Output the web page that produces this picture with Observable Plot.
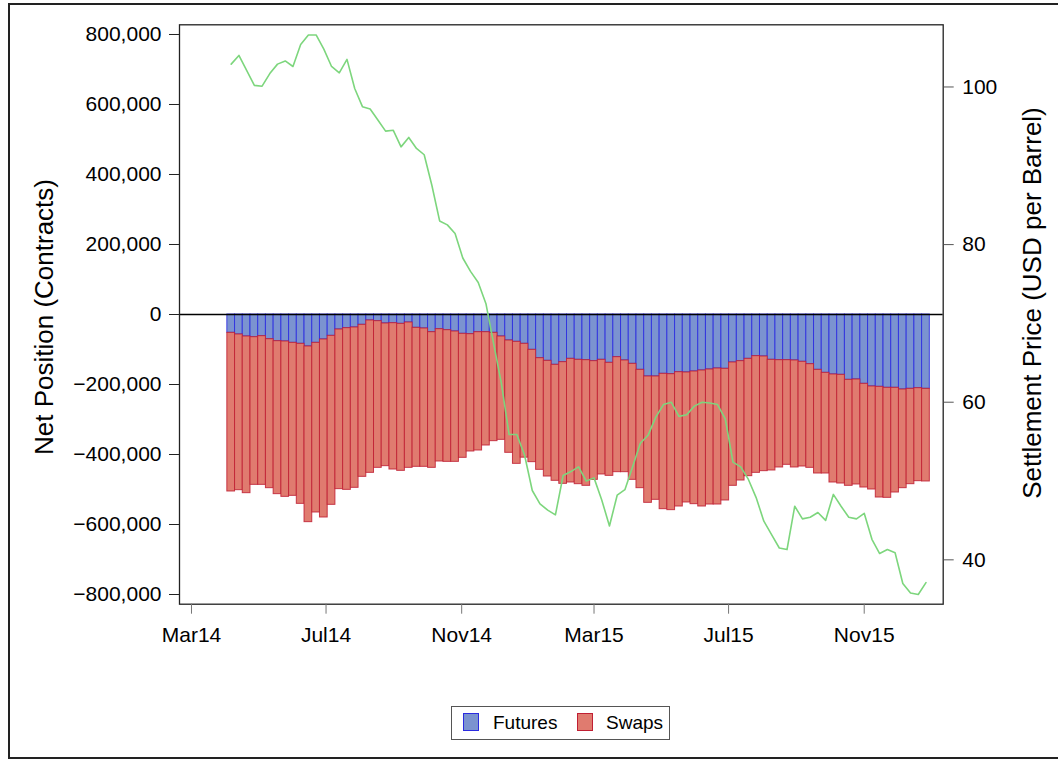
<!DOCTYPE html>
<html><head><meta charset="utf-8">
<script src="https://cdn.jsdelivr.net/npm/d3@7"></script>
<script src="https://cdn.jsdelivr.net/npm/@observablehq/plot@0.6"></script>
<style>
body{margin:0;background:#fff;font-family:"Liberation Sans",Arial,sans-serif;}
#wrap{position:relative;width:1058px;height:759px;overflow:hidden;}
#border{position:absolute;left:8px;top:3px;width:1060px;height:756px;border:2px solid #222;box-sizing:border-box;pointer-events:none;}
#chart{position:absolute;left:0;top:0;}
#legend{position:absolute;left:451px;top:706px;width:219px;height:34px;border:1px solid #555;box-sizing:border-box;font-size:19px;color:#000;}
#legend .sw{position:absolute;top:6px;width:16px;height:18px;box-sizing:border-box;border:1.5px solid;}
#legend .lb{position:absolute;top:6px;line-height:20px;}
</style>
</head><body>
<div id="wrap">
  <div id="chart"></div>
  <div id="legend">
    <span class="sw" style="left:11px;background:#7b93d0;border-color:#2b2be0"></span><span class="lb" style="left:41px">Futures</span>
    <span class="sw" style="left:125px;background:#e07b6f;border-color:#c01f33"></span><span class="lb" style="left:154px">Swaps</span>
  </div>
  <div id="border"></div>
</div>
<script>
// Weekly observation dates (91 weeks)
const dates = d3.utcSunday.range(new Date("2014-04-06"), new Date("2016-01-01"));

// Net position, futures (contracts)
const futures = [-52400,-57100,-62900,-64800,-61900,-70500,-76200,-77100,-81000,-83800,
-91400,-81000,-71400,-61000,-42900,-39000,-37100,-29500,-17100,-19000,
-25700,-24800,-26700,-22900,-38100,-40000,-50500,-41900,-44800,-48600,
-55200,-56200,-50500,-50500,-52400,-62900,-74300,-78100,-83800,-101000,
-124800,-132400,-143800,-136200,-126700,-129500,-130500,-133300,-129500,-138100,
-121900,-131400,-141000,-158100,-177100,-177100,-169500,-170500,-164800,-165700,
-162900,-160000,-157100,-154300,-155200,-137100,-133300,-126700,-119000,-120000,
-129500,-130500,-130500,-131400,-135200,-141900,-158100,-166700,-171400,-172400,
-186700,-185700,-198100,-205700,-206700,-209500,-209500,-214300,-212400,-210500,-212400];

// Net position, swaps (contracts)
const swaps = [-453300,-444800,-447600,-421900,-424800,-425700,-437100,-443900,-437100,-457200,
-501900,-484700,-508600,-482800,-456100,-462000,-458100,-434300,-435300,-419100,
-407600,-418100,-420000,-415200,-397100,-395200,-387600,-378100,-376200,-372400,
-354300,-335200,-338100,-323800,-309500,-295200,-320900,-348600,-325200,-320900,
-319000,-330500,-331400,-347600,-353300,-355300,-359000,-339100,-327600,-322900,
-328600,-319100,-331400,-338100,-361000,-352400,-386700,-388500,-383800,-371400,
-379000,-388600,-385800,-388600,-376200,-352400,-341000,-335200,-333400,-327600,
-316200,-306600,-299000,-305700,-299100,-296200,-296200,-287600,-308600,-310500,
-302800,-300000,-296200,-294300,-316200,-314300,-299100,-281900,-272400,-265700,-264700];

// Settlement price (USD per barrel)
const price = [102.9,104.0,102.1,100.2,100.1,101.7,102.9,103.3,102.6,105.4,
106.6,106.6,104.8,102.6,101.8,103.5,99.8,97.5,97.2,95.8,
94.4,94.5,92.4,93.6,92.2,91.4,87.5,83.0,82.5,81.4,
78.3,76.6,75.2,72.5,67.4,62.4,55.9,55.9,53.3,48.8,
47.1,46.3,45.7,50.7,51.2,51.8,50.0,50.4,47.6,44.3,
48.2,48.9,51.8,54.8,55.8,58.1,59.7,60.0,58.2,58.4,
59.5,60.0,59.9,59.7,57.9,52.4,51.8,50.2,47.9,44.9,
43.2,41.5,41.3,46.8,45.2,45.4,46.0,45.0,48.3,46.8,
45.4,45.2,45.9,42.6,40.8,41.3,40.9,37.0,35.8,35.6,37.1];

const xTicks = ["2014-03-01","2014-07-01","2014-11-01","2015-03-01","2015-07-01","2015-11-01"].map(d => new Date(d));
const leftTicks = [-800000,-600000,-400000,-200000,0,200000,400000,600000,800000];
const priceTicks = [40,60,80,100];

const yDomain = [-827700, 827700];
const priceDomain = [34.37, 107.89];
const p2y = d3.scaleLinear().domain(priceDomain).range(yDomain);

const rows = dates.map((d, i) => ({date: d, futures: futures[i], swaps: swaps[i], price: price[i]}));
const x1 = d => d3.utcHour.offset(d.date, -84);
const x2 = d => d3.utcHour.offset(d.date, 84);

const chart = Plot.plot({
  width: 1058, height: 680,
  marginLeft: 179, marginRight: 115.3, marginTop: 24.3, marginBottom: 76.3,
  style: {fontFamily: "'Liberation Sans', Arial, sans-serif", fontSize: "21px", color: "#000", background: "transparent"},
  x: {type: "utc", domain: [new Date("2014-02-18T03:00Z"), new Date("2016-01-11T15:00Z")], axis: null},
  y: {domain: yDomain, axis: null},
  marks: [
    Plot.rectY(rows, {x1, x2, y1: 0, y2: "futures", fill: "#7b93d0", stroke: "#2b2be0", strokeOpacity: 0.85, strokeWidth: 1}),
    Plot.rectY(rows, {x1, x2, y1: "futures", y2: d => d.futures + d.swaps, fill: "#e07b6f", stroke: "#c01f33", strokeOpacity: 0.85, strokeWidth: 1}),
    Plot.ruleY([0], {stroke: "#000", strokeWidth: 1.5}),
    Plot.line(rows, {x: "date", y: d => p2y(d.price), stroke: "#7dd67d", strokeWidth: 1.6}),
    Plot.frame({stroke: "#222", strokeWidth: 1.3}),
    Plot.axisY(leftTicks, {anchor: "left", tickFormat: d3.format(","), tickSize: 10, tickPadding: 8, label: null, stroke: "#222", fill: "#000"}),
    Plot.axisY(priceTicks.map(p => p2y(p)), {anchor: "right", tickFormat: d => String(Math.round(p2y.invert(d))), tickSize: 10, tickPadding: 9, label: null, stroke: "#555", fill: "#000"}),
    Plot.axisX(xTicks, {anchor: "bottom", tickFormat: d3.utcFormat("%b%y"), tickSize: 10, tickPadding: 13, label: null, stroke: "#777", fill: "#000"}),
    Plot.text(["Net Position (Contracts)"], {frameAnchor: "left", textAnchor: "middle", text: d => d, rotate: -90, dx: -135, dy: 2.5, fontSize: 26, fill: "#000"}),
    Plot.text(["Settlement Price (USD per Barrel)"], {frameAnchor: "right", textAnchor: "middle", text: d => d, rotate: -90, dx: 89.3, dy: -11.5, fontSize: 26, fill: "#000"})
  ]
});
document.getElementById("chart").appendChild(chart);
</script>
</body></html>
